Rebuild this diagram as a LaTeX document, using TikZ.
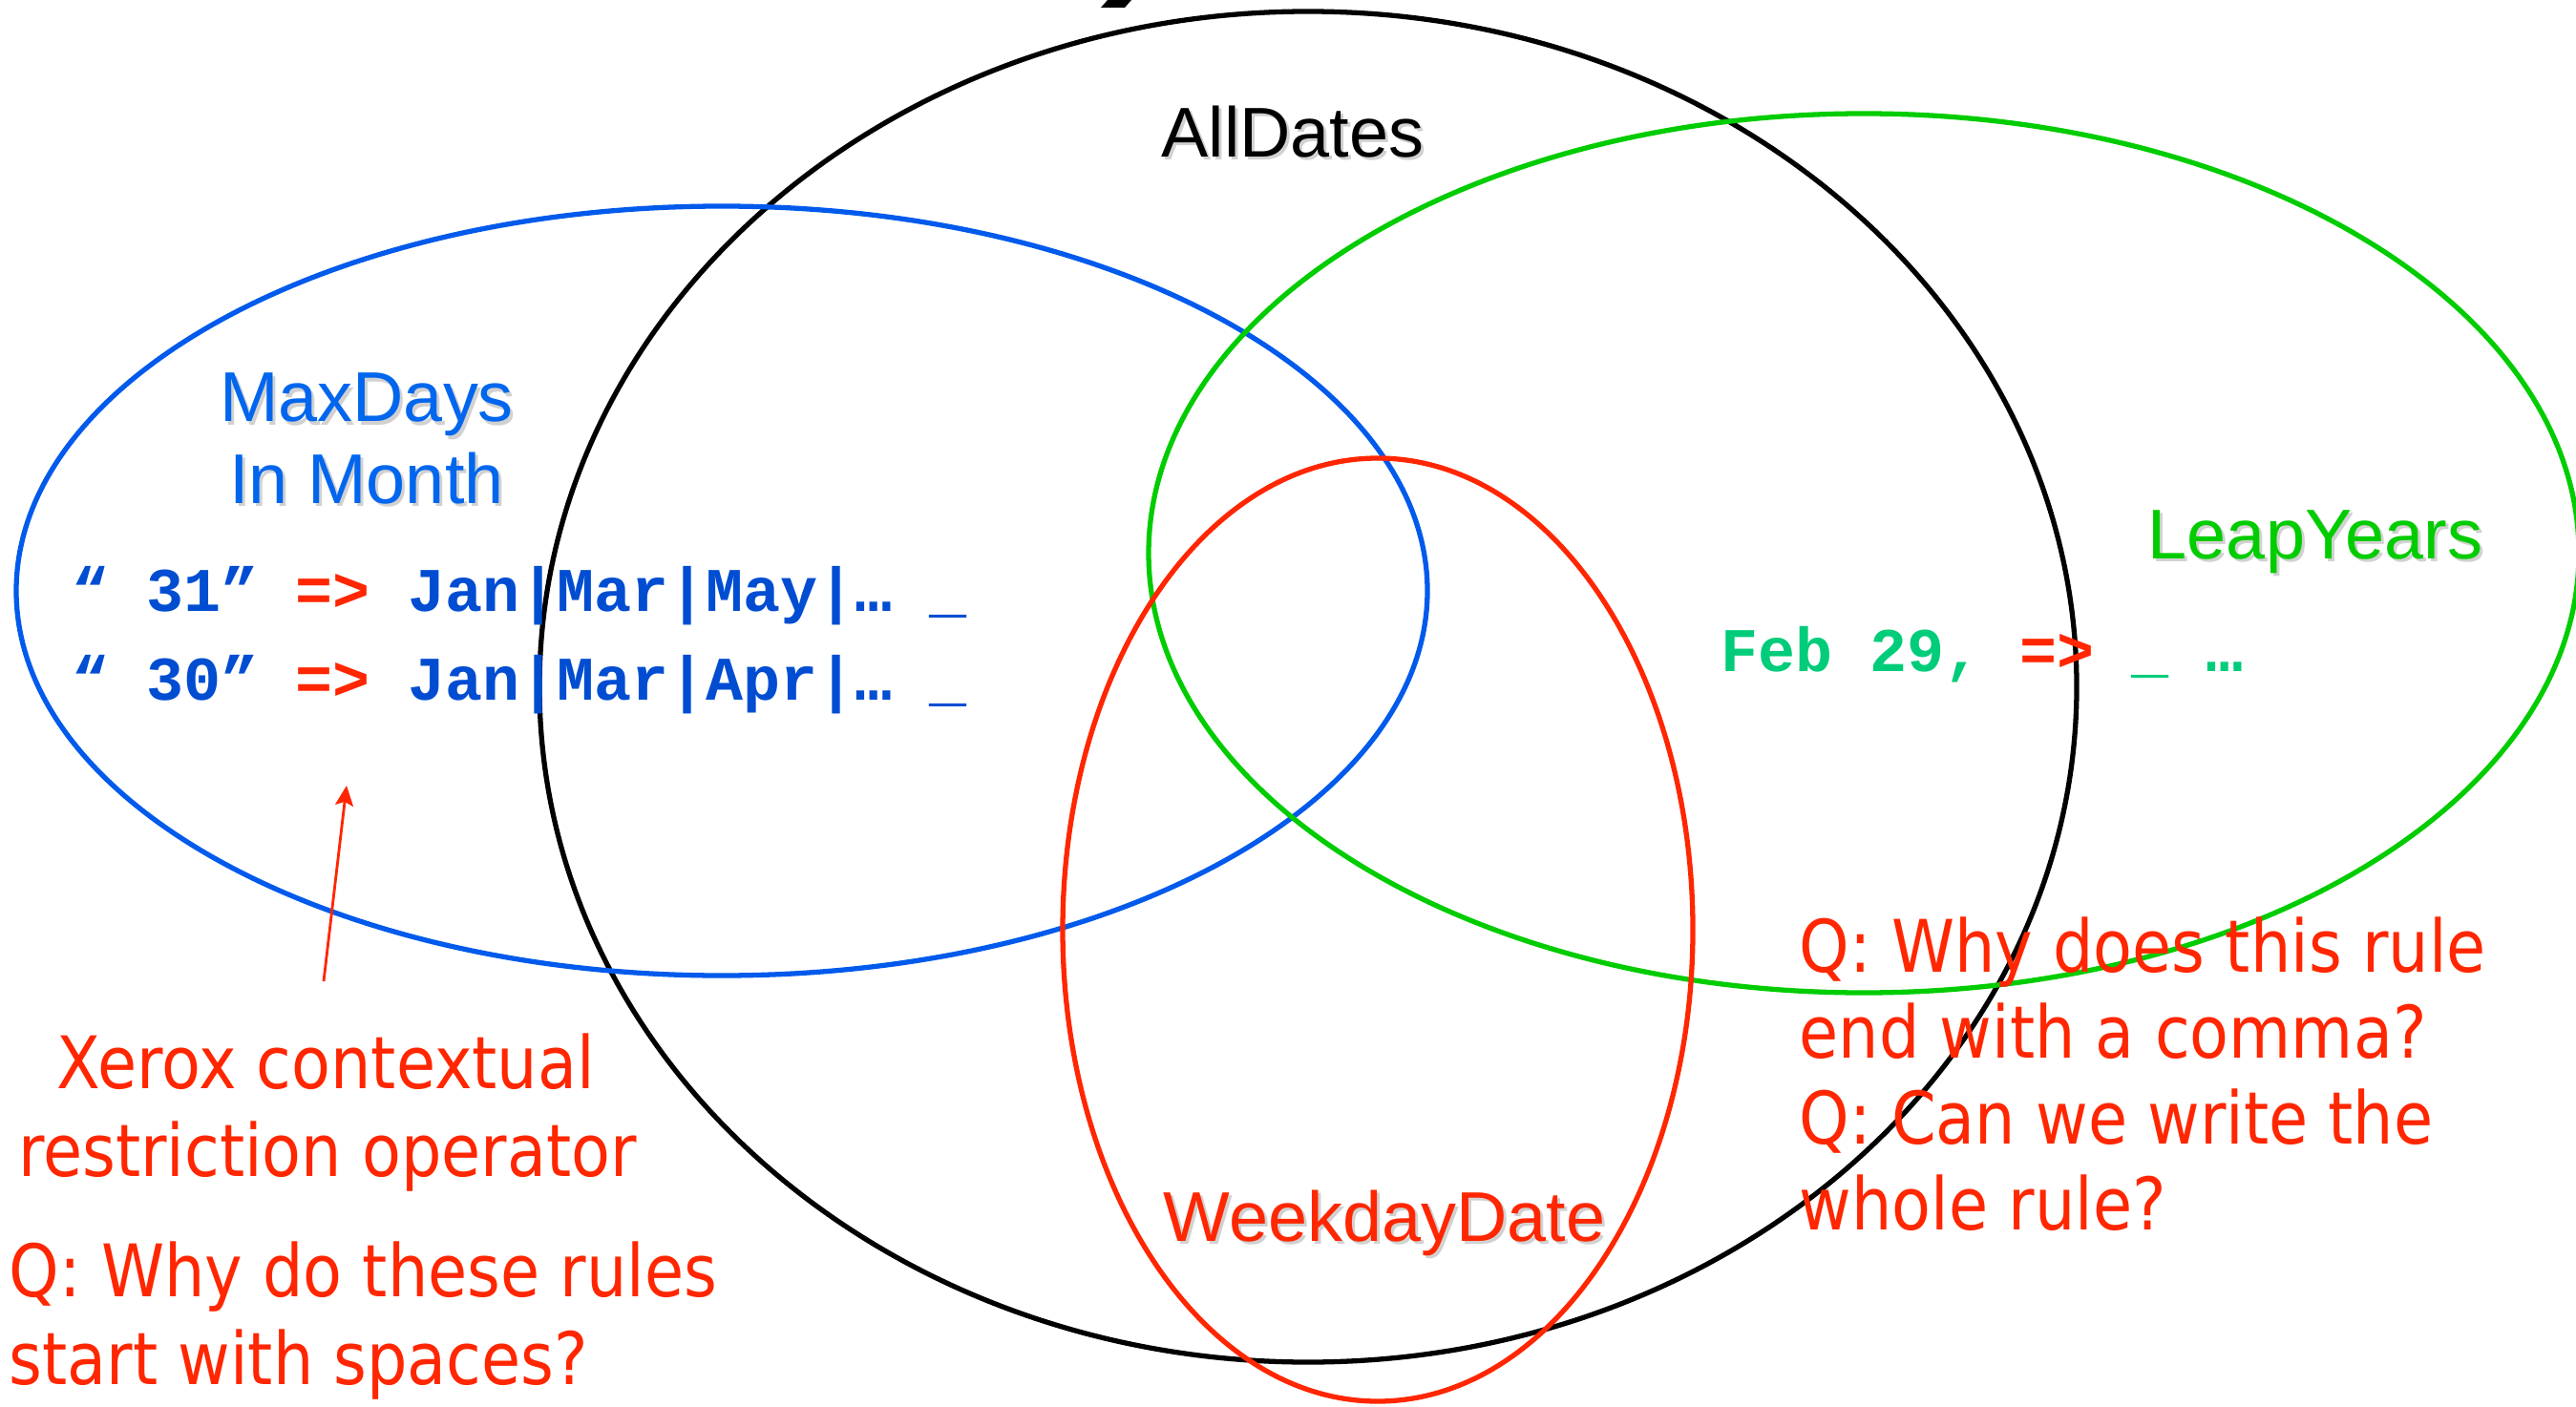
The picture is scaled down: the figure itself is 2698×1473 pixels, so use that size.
\documentclass[tikz,border=0pt]{standalone}
\usepackage{fontspec}
\setmainfont{Liberation Sans}
\newfontfamily\codefont{Liberation Mono}
\newfontfamily\qfont{DejaVu Sans}[FakeStretch=0.88]
\usetikzlibrary{arrows.meta}
\definecolor{myred}{RGB}{255,38,0}
\definecolor{myblue}{RGB}{0,90,235}
\definecolor{labelblue}{RGB}{0,102,238}
\definecolor{codeblue}{RGB}{0,77,210}
\definecolor{mygreen}{RGB}{0,204,0}
\definecolor{codegreen}{RGB}{0,204,122}
\tikzset{
  setline/.style={line width=1.5pt},
  lbl/.style={inner sep=0pt, anchor=base, font=\fontsize{21pt}{25pt}\selectfont},
  lblshadow/.style={lbl, text=black!18},
  codeline/.style={inner sep=0pt, anchor=base west, font=\fontsize{18.5pt}{22pt}\selectfont\codefont\bfseries},
  qtext/.style={inner sep=0pt, text=myred, font=\fontsize{21.6pt}{25pt}\selectfont\qfont},
  pointer/.style={draw=myred, line width=0.8pt, -{Stealth[length=0.21cm,width=0.19cm,inset=0.04cm]}}
}
\begin{document}
\begin{tikzpicture}[x=0.01cm,y=-0.01cm]
\useasboundingbox (0,0) rectangle (2698,1473);
% cut-off title fragment at the top
\fill (1160,0) -- (1185,0) -- (1178,8) -- (1153,8) -- cycle;
% sets
\draw[setline, black] (1370,719.5) ellipse [x radius=805, y radius=707.5];
\draw[setline, myblue] (756,619) ellipse [x radius=739, y radius=403];
\draw[setline, mygreen] (1952,579.5) ellipse [x radius=749, y radius=460.5];
\draw[setline, myred] (1443,974) ellipse [x radius=330, y radius=494];
% set labels (with soft shadow)
\node[lblshadow] (alldates-sh) at (1357,168) {AllDates};
\node[lbl, text=black] (alldates) at (1354,165) {AllDates};
\node[lblshadow] (maxdays-sh) at (387,445) {MaxDays};
\node[lbl, text=labelblue] (maxdays) at (384,442) {MaxDays};
\node[lblshadow] (inmonth-sh) at (387,530) {In Month};
\node[lbl, text=labelblue] (inmonth) at (384,527) {In Month};
\node[lblshadow] (leapyears-sh) at (2428,588) {LeapYears};
\node[lbl, text=mygreen] (leapyears) at (2425,585) {LeapYears};
\node[lblshadow] (weekday-sh) at (1453,1303) {WeekdayDate};
\node[lbl, text=myred] (weekday) at (1450,1300) {WeekdayDate};
% rules
\node[codeline, text=codeblue] (rule31) at (75,640) {“ 31” {\color{myred}=>} Jan|Mar|May|… \_};
\node[codeline, text=codeblue] (rule30) at (75,733) {“ 30” {\color{myred}=>} Jan|Mar|Apr|… \_};
\node[codeline, text=codegreen] (rulefeb) at (1802,703) {Feb 29, {\color{myred}=>} \_ …};
% annotations
\node[qtext, anchor=base] (xerox1) at (341,1140) {Xerox contextual};
\node[qtext, anchor=base] (xerox2) at (343,1232) {restriction operator};
\node[qtext, anchor=base west] (qleft1) at (9,1358) {Q: Why do these rules};
\node[qtext, anchor=base west] (qleft2) at (9,1450) {start with spaces?};
\node[qtext, anchor=base west] (qright1) at (1884,1018) {Q: Why does this rule};
\node[qtext, anchor=base west] (qright2) at (1884,1108) {end with a comma?};
\node[qtext, anchor=base west] (qright3) at (1884,1198) {Q: Can we write the};
\node[qtext, anchor=base west] (qright4) at (1884,1288) {whole rule?};
% pointer arrow
\coordinate (arrtail) at (339,1028);
\coordinate (arrtip) at (363,823);
\draw[pointer] (arrtail) -- (arrtip);
\end{tikzpicture}
\end{document}
